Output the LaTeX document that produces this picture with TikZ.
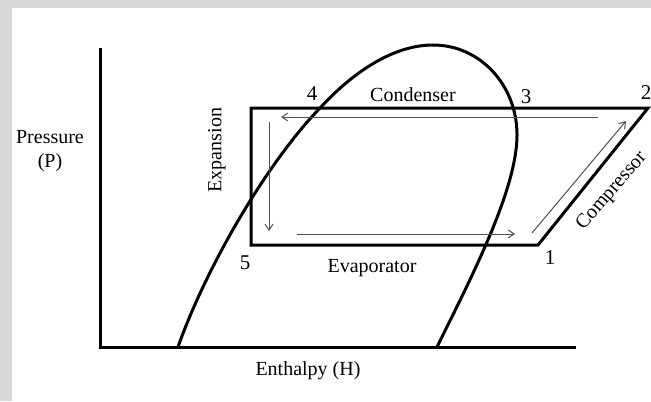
\documentclass[tikz,border=0pt]{standalone}
\usepackage{fontspec}
\setmainfont{Liberation Serif}
\usetikzlibrary{arrows.meta, positioning}
\definecolor{cFrame}{RGB}{216,216,216}
\definecolor{cArrow}{RGB}{80,80,80}

\begin{document}
\begin{tikzpicture}[
  x=0.5pt, y=-0.5pt,
  axis/.style={line width=1.5pt, black},
  cyc/.style={line width=1.5pt, black, line join=miter},
  dome/.style={line width=1.5pt, black},
  flow/.style={-{Straight Barb[length=3pt, width=4pt]}, line width=0.5pt, cArrow},
  lbl/.style={font=\fontsize{10}{12}\selectfont, inner sep=1pt, align=center},
  num/.style={font=\fontsize{10.5}{12}\selectfont, inner sep=1pt}
]

%% frame
\useasboundingbox (0,0) rectangle (651,401);
\fill[cFrame] (0,0) rectangle (651,401);
\fill[white] (12,8) rectangle (651,401);

%% axes
\coordinate (ytop)   at (100,48);
\coordinate (origin) at (100,347);
\coordinate (xend)   at (576,347);
\draw[axis] (ytop) -- (origin) -- (xend);

\node[lbl] (ylab) at (50,151) {Pressure\\(P)};
\node[lbl] (xlab) at (308,371) {Enthalpy (H)};

%% saturation dome
\coordinate (dl) at (178,347);
\coordinate (dt) at (433,45);
\coordinate (dr) at (517,135);
\coordinate (db) at (437,347);
\draw[dome] (dl) .. controls (205,270) and (265,165) .. (320,108)
                 .. controls (355,70) and (395,45) .. (dt)
                 .. controls (480,45) and (517,85) .. (dr)
                 .. controls (517,190) and (470,280) .. (db);

%% cycle points
\coordinate (p1) at (538,245);
\coordinate (p2) at (648,108);
\coordinate (p3) at (515,108);
\coordinate (p4) at (320,108);
\coordinate (p5) at (251,245);
\coordinate (p6) at (251,108);

\draw[cyc] (p5) -- (p6) -- (p2) -- (p1) -- cycle;

%% point numbers
\node[num] (n1) at (550,258) {1};
\node[num] (n2) at (646,93)  {2};
\node[num] (n3) at (526,97)  {3};
\node[num] (n4) at (312,94)  {4};
\node[num] (n5) at (245,263) {5};

%% process labels
\node[lbl] (cond) at (413,95)  {Condenser};
\node[lbl] (evap) at (372,268) {Evaporator};
\node[lbl, rotate=90] (expn) at (217,150) {Expansion};
\node[lbl, rotate=49] (comp) at (612,191) {Compressor};

%% flow arrows
\coordinate (cond_s) at (598,117);
\coordinate (cond_e) at (281,117);
\coordinate (expn_s) at (269,122);
\coordinate (expn_e) at (269,231);
\coordinate (evap_s) at (297,234);
\coordinate (evap_e) at (515,234);
\coordinate (comp_s) at (532,233);
\coordinate (comp_e) at (626,121);

\draw[flow] (cond_s) -- (cond_e);
\draw[flow] (expn_s) -- (expn_e);
\draw[flow] (evap_s) -- (evap_e);
\draw[flow] (comp_s) -- (comp_e);

\end{tikzpicture}
\end{document}
